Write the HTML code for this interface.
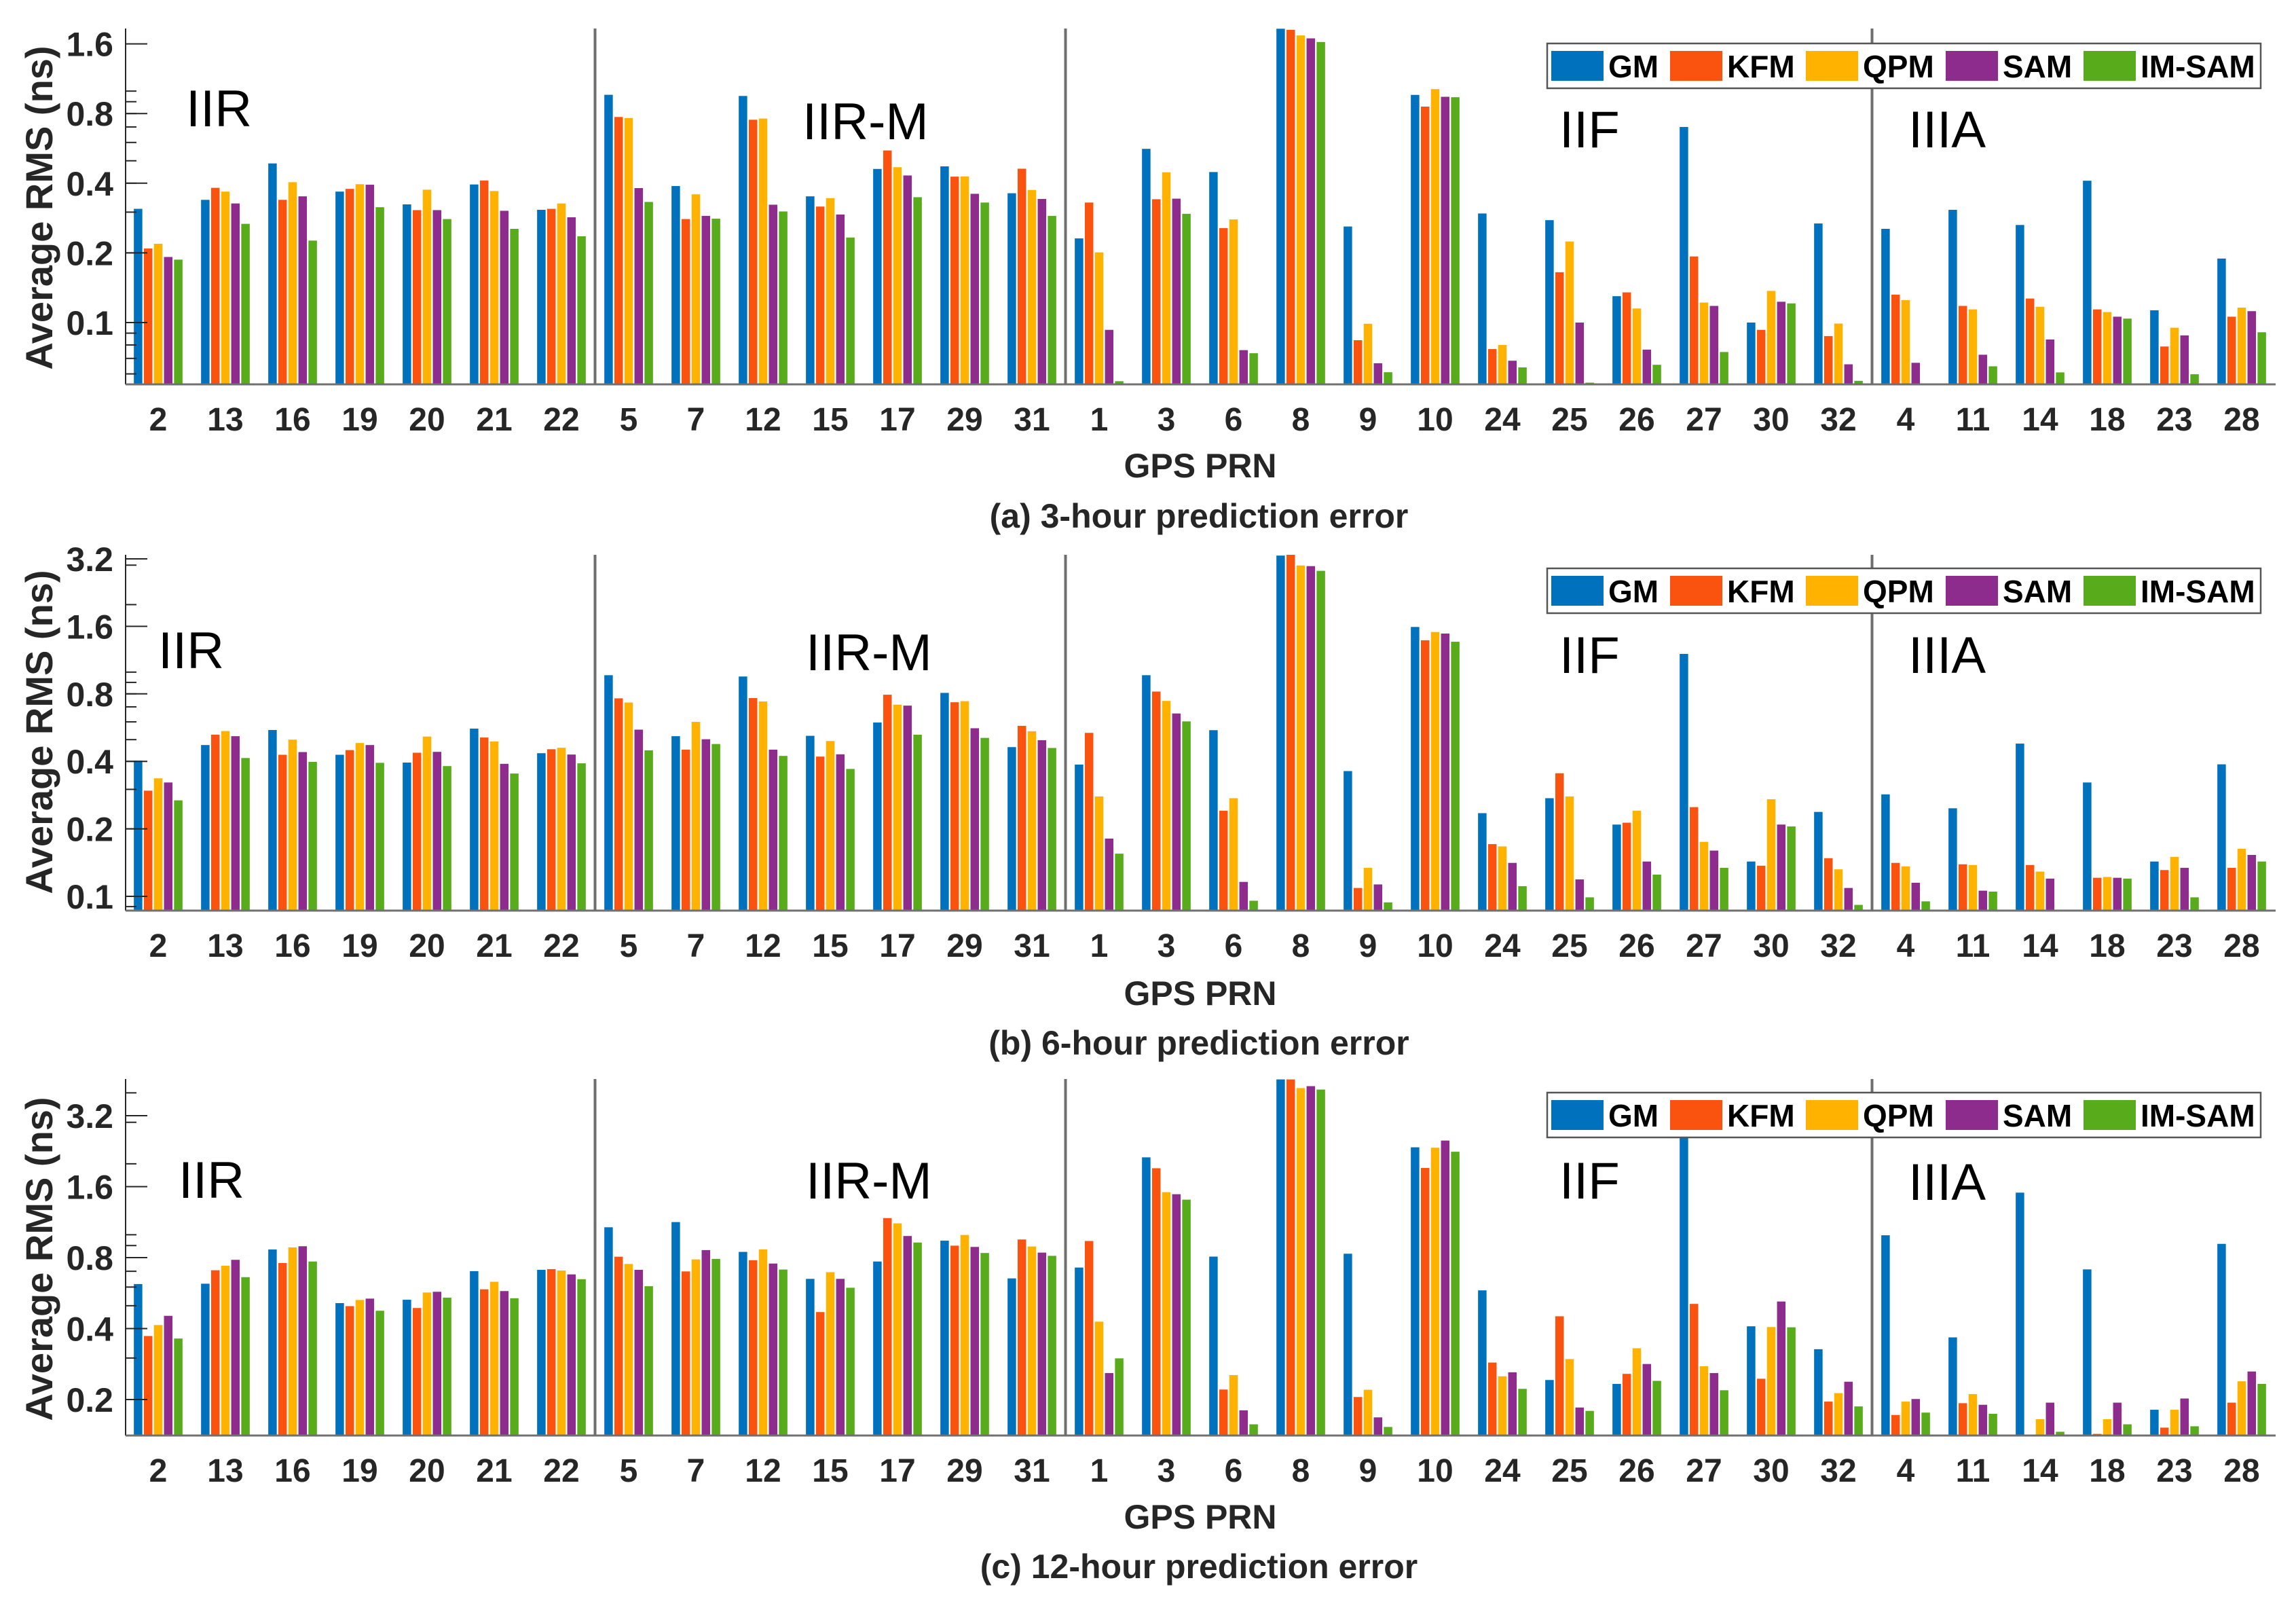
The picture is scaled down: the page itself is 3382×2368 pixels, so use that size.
<!DOCTYPE html>
<html><head><meta charset="utf-8">
<style>
html,body{margin:0;padding:0;background:#fff;}
svg{display:block;font-family:"Liberation Sans",Arial,sans-serif;}
</style></head>
<body>
<svg id="chart" width="3382" height="2368" viewBox="0 0 3382 2368" xmlns="http://www.w3.org/2000/svg">
<rect x="0" y="0" width="3382" height="2368" fill="#fff"/>
</svg>
<script>
const prns = ["2","13","16","19","20","21","22","5","7","12","15","17","29","31","1","3","6","8","9","10","24","25","26","27","30","32","4","11","14","18","23","28"];
const seriesNames = ["GM","KFM","QPM","SAM","IM-SAM"];
const seriesColors = ["#0072BD","#FA520F","#FFB300","#8E2C8E","#58AC1B"];
const groupNames = ["IIR","IIR-M","IIF","IIIA"];
const groupBounds = [7,14,26];

const a_GM  = [0.31,0.339,0.487,0.368,0.324,0.395,0.307,0.964,0.389,0.953,0.351,0.461,0.473,0.362,0.231,0.563,0.447,1.86,0.26,0.963,0.296,0.277,0.130,0.70,0.10,0.268,0.254,0.307,0.264,0.41,0.113,0.189];
const a_KFM = [0.209,0.382,0.339,0.378,0.306,0.411,0.31,0.773,0.28,0.752,0.317,0.554,0.427,0.462,0.33,0.341,0.256,1.84,0.0839,0.857,0.0768,0.165,0.135,0.193,0.093,0.0874,0.132,0.118,0.127,0.114,0.0788,0.106];
const a_QPM = [0.219,0.368,0.404,0.396,0.375,0.37,0.327,0.765,0.358,0.761,0.345,0.469,0.428,0.374,0.201,0.446,0.279,1.74,0.0988,1.02,0.080,0.224,0.115,0.122,0.137,0.099,0.125,0.114,0.117,0.111,0.095,0.116];
const a_SAM = [0.192,0.327,0.351,0.394,0.306,0.304,0.285,0.381,0.289,0.323,0.293,0.432,0.36,0.342,0.093,0.343,0.076,1.69,0.0667,0.945,0.0684,0.1,0.0764,0.118,0.123,0.066,0.067,0.0726,0.0845,0.106,0.088,0.112];
const a_IM  = [0.187,0.267,0.226,0.315,0.28,0.254,0.236,0.332,0.281,0.302,0.233,0.348,0.33,0.289,0.0558,0.295,0.0737,1.63,0.061,0.941,0.064,0.055,0.0657,0.0746,0.121,0.056,0.05,0.0647,0.0609,0.104,0.0598,0.0908];

const b_GM  = [0.403,0.473,0.552,0.428,0.395,0.56,0.435,0.969,0.518,0.956,0.52,0.596,0.808,0.463,0.387,0.969,0.551,3.31,0.362,1.59,0.235,0.274,0.209,1.206,0.143,0.238,0.285,0.247,0.48,0.322,0.143,0.388];
const b_KFM = [0.296,0.526,0.428,0.449,0.437,0.511,0.453,0.764,0.451,0.766,0.42,0.793,0.734,0.576,0.536,0.819,0.241,3.36,0.109,1.387,0.171,0.354,0.213,0.25,0.137,0.148,0.141,0.139,0.138,0.121,0.131,0.134];
const b_QPM = [0.336,0.546,0.5,0.483,0.516,0.491,0.46,0.732,0.6,0.74,0.493,0.716,0.742,0.545,0.279,0.744,0.274,2.99,0.134,1.51,0.167,0.279,0.241,0.175,0.271,0.132,0.136,0.138,0.129,0.122,0.15,0.163];
const b_SAM = [0.322,0.518,0.44,0.473,0.441,0.39,0.429,0.554,0.502,0.451,0.43,0.709,0.562,0.497,0.181,0.654,0.116,2.97,0.113,1.486,0.141,0.119,0.143,0.16,0.209,0.109,0.115,0.106,0.12,0.121,0.134,0.153];
const b_IM  = [0.268,0.414,0.398,0.394,0.381,0.353,0.392,0.448,0.478,0.423,0.37,0.526,0.509,0.459,0.155,0.603,0.0956,2.83,0.094,1.366,0.111,0.099,0.125,0.134,0.205,0.0916,0.095,0.105,0.08,0.12,0.099,0.143];

const c_GM  = [0.618,0.62,0.866,0.513,0.53,0.701,0.71,1.076,1.132,0.846,0.65,0.77,0.944,0.653,0.726,2.13,0.808,4.56,0.831,2.35,0.581,0.242,0.233,3.0,0.409,0.327,0.995,0.367,1.509,0.713,0.181,0.915];
const c_KFM = [0.372,0.707,0.759,0.498,0.489,0.587,0.715,0.807,0.699,0.78,0.47,1.177,0.899,0.955,0.941,1.915,0.2205,4.56,0.205,1.92,0.287,0.451,0.257,0.509,0.245,0.196,0.172,0.193,0.13,0.143,0.152,0.194];
const c_QPM = [0.414,0.739,0.884,0.529,0.569,0.632,0.705,0.752,0.786,0.867,0.694,1.118,0.998,0.892,0.428,1.516,0.254,4.19,0.22,2.34,0.251,0.297,0.33,0.277,0.406,0.213,0.196,0.211,0.165,0.165,0.181,0.239];
const c_SAM = [0.453,0.783,0.894,0.536,0.573,0.577,0.679,0.71,0.861,0.755,0.65,0.988,0.888,0.84,0.259,1.486,0.18,4.27,0.168,2.51,0.261,0.185,0.283,0.259,0.521,0.238,0.201,0.19,0.194,0.194,0.202,0.263];
const c_IM  = [0.363,0.661,0.77,0.476,0.541,0.538,0.648,0.605,0.79,0.712,0.596,0.927,0.837,0.814,0.299,1.409,0.157,4.13,0.153,2.25,0.222,0.179,0.24,0.219,0.405,0.187,0.176,0.174,0.146,0.157,0.154,0.233];

const a_ticks = ["0.1","0.2","0.4","0.8","1.6"];
const b_ticks = ["0.1","0.2","0.4","0.8","1.6","3.2"];
const c_ticks = ["0.2","0.4","0.8","1.6","3.2"];
const captions = ["(a) 3-hour prediction error","(b) 6-hour prediction error","(c) 12-hour prediction error"];

const NS = "http://www.w3.org/2000/svg";
const svg = document.getElementById("chart");
function mk(tag, attrs, parent, text){
  const e = document.createElementNS(NS, tag);
  for (const k in attrs) e.setAttribute(k, attrs[k]);
  if (text !== undefined) e.textContent = text;
  (parent || svg).appendChild(e);
  return e;
}

const X0 = 183.5, STEP = 99, XR = 3352, BW = 12.5, PITCH = 14.8;
function xCenter(i){ return X0 + STEP*(i+0.5); }

const panels = [
 {series:[a_GM,a_KFM,a_QPM,a_SAM,a_IM], ticks:a_ticks, top:42, bottom:566, refV:0.1, refY:475, oct:102.6,
  labY:634, prnY:703, capY:777, titleY:306, legY:64, grp:[[274,186],[1182,205],[2297,217],[2811,217]]},
 {series:[b_GM,b_KFM,b_QPM,b_SAM,b_IM], ticks:b_ticks, top:817, bottom:1341, refV:0.1, refY:1320, oct:99.4,
  labY:1409, prnY:1480, capY:1553, titleY:1078, legY:837, grp:[[233,984],[1187,987],[2297,991],[2811,991]]},
 {series:[c_GM,c_KFM,c_QPM,c_SAM,c_IM], ticks:c_ticks, top:1589, bottom:2114, refV:0.2, refY:2061, oct:104.5,
  labY:2182, prnY:2251, capY:2324, titleY:1854, legY:1609, grp:[[263,1764],[1187,1765],[2297,1765],[2811,1767]]}
];

panels.forEach((p, pi) => {
  const g = mk("g", {}, svg);
  
  
  const yOf = v => p.refY - Math.log2(v / p.refV) * p.oct;
  const vMin = p.refV * Math.pow(2, (p.refY - p.bottom) / p.oct);
  const vMax = p.refV * Math.pow(2, (p.refY - p.top) / p.oct);

  // bars
  p.series.forEach((vals, s) => {
    vals.forEach((v, i) => {
      if (v <= vMin) return;
      const yt = Math.max(p.top, yOf(v));
      const x = xCenter(i) + (s - 2) * PITCH - BW / 2;
      const r = mk("rect", {x:x.toFixed(2), y:yt.toFixed(2), width:BW, height:(p.bottom - yt).toFixed(2), fill:seriesColors[s]}, g);
      
      
    });
  });

  // minor/major ticks
  const decStart = Math.floor(Math.log10(vMin)), decEnd = Math.ceil(Math.log10(vMax));
  for (let d = decStart; d <= decEnd; d++) {
    for (let m = 1; m <= 9; m++) {
      const v = m * Math.pow(10, d);
      if (v < vMin || v > vMax) continue;
      const y = yOf(v);
      mk("line", {x1:185, x2:201, y1:y, y2:y, stroke:"#262626", "stroke-width":2}, g);
    }
  }
  p.ticks.forEach(t => {
    const y = yOf(parseFloat(t));
    mk("line", {x1:185, x2:217, y1:y, y2:y, stroke:"#262626", "stroke-width":2}, g);
    const tl = mk("text", {x:167, y:y + 18, "text-anchor":"end", "font-size":50, "font-weight":"bold", fill:"#262626"}, g, t);
    
    
  });

  // axes
  const ya = mk("line", {x1:185, x2:185, y1:p.top, y2:p.bottom, stroke:"#262626", "stroke-width":2}, g);
  
  
  const xa = mk("line", {x1:185, x2:XR, y1:p.bottom, y2:p.bottom, stroke:"#707070", "stroke-width":3}, g);
  
  

  // dividers
  groupBounds.forEach(b => {
    const x = X0 + STEP * b;
    const dl = mk("line", {x1:x, x2:x, y1:p.top, y2:p.bottom, stroke:"#6e6e6e", "stroke-width":4}, g);
    
    
  });

  // group labels
  groupNames.forEach((n, k) => {
    const gl = mk("text", {x:p.grp[k][0], y:p.grp[k][1], "font-size":76, fill:"#000"}, g, n);
    
    
  });

  // x tick labels
  prns.forEach((n, i) => {
    const xl = mk("text", {x:xCenter(i), y:p.labY, "text-anchor":"middle", "font-size":48, "font-weight":"bold", fill:"#262626"}, g, n);
    
    
  });

  const xt = mk("text", {x:1768, y:p.prnY, "text-anchor":"middle", "font-size":50, "font-weight":"bold", fill:"#262626"}, g, "GPS PRN");
  
  
  const cp = mk("text", {x:1766, y:p.capY, "text-anchor":"middle", "font-size":50, "font-weight":"bold", fill:"#262626"}, g, captions[pi]);
  
  
  const yt = mk("text", {x:0, y:0, transform:"translate(77," + p.titleY + ") rotate(-90)", "text-anchor":"middle", "font-size":56, "font-weight":"bold", fill:"#262626"}, g, "Average RMS (ns)");
  
  

  // legend
  const lg = mk("g", {}, g);
  
  
  mk("rect", {x:2279, y:p.legY, width:1051, height:66, fill:"#fff", stroke:"#555", "stroke-width":2.5}, lg);
  const swX = [2285, 2460, 2660, 2866, 3069];
  seriesNames.forEach((n, s) => {
    const e = mk("g", {}, lg);
    
    
    mk("rect", {x:swX[s], y:p.legY + 11, width:77, height:44, fill:seriesColors[s]}, e);
    mk("text", {x:swX[s] + 84, y:p.legY + 50, "font-size":46, "font-weight":"bold", fill:"#000"}, e, n);
  });
});
</script>
</body></html>
